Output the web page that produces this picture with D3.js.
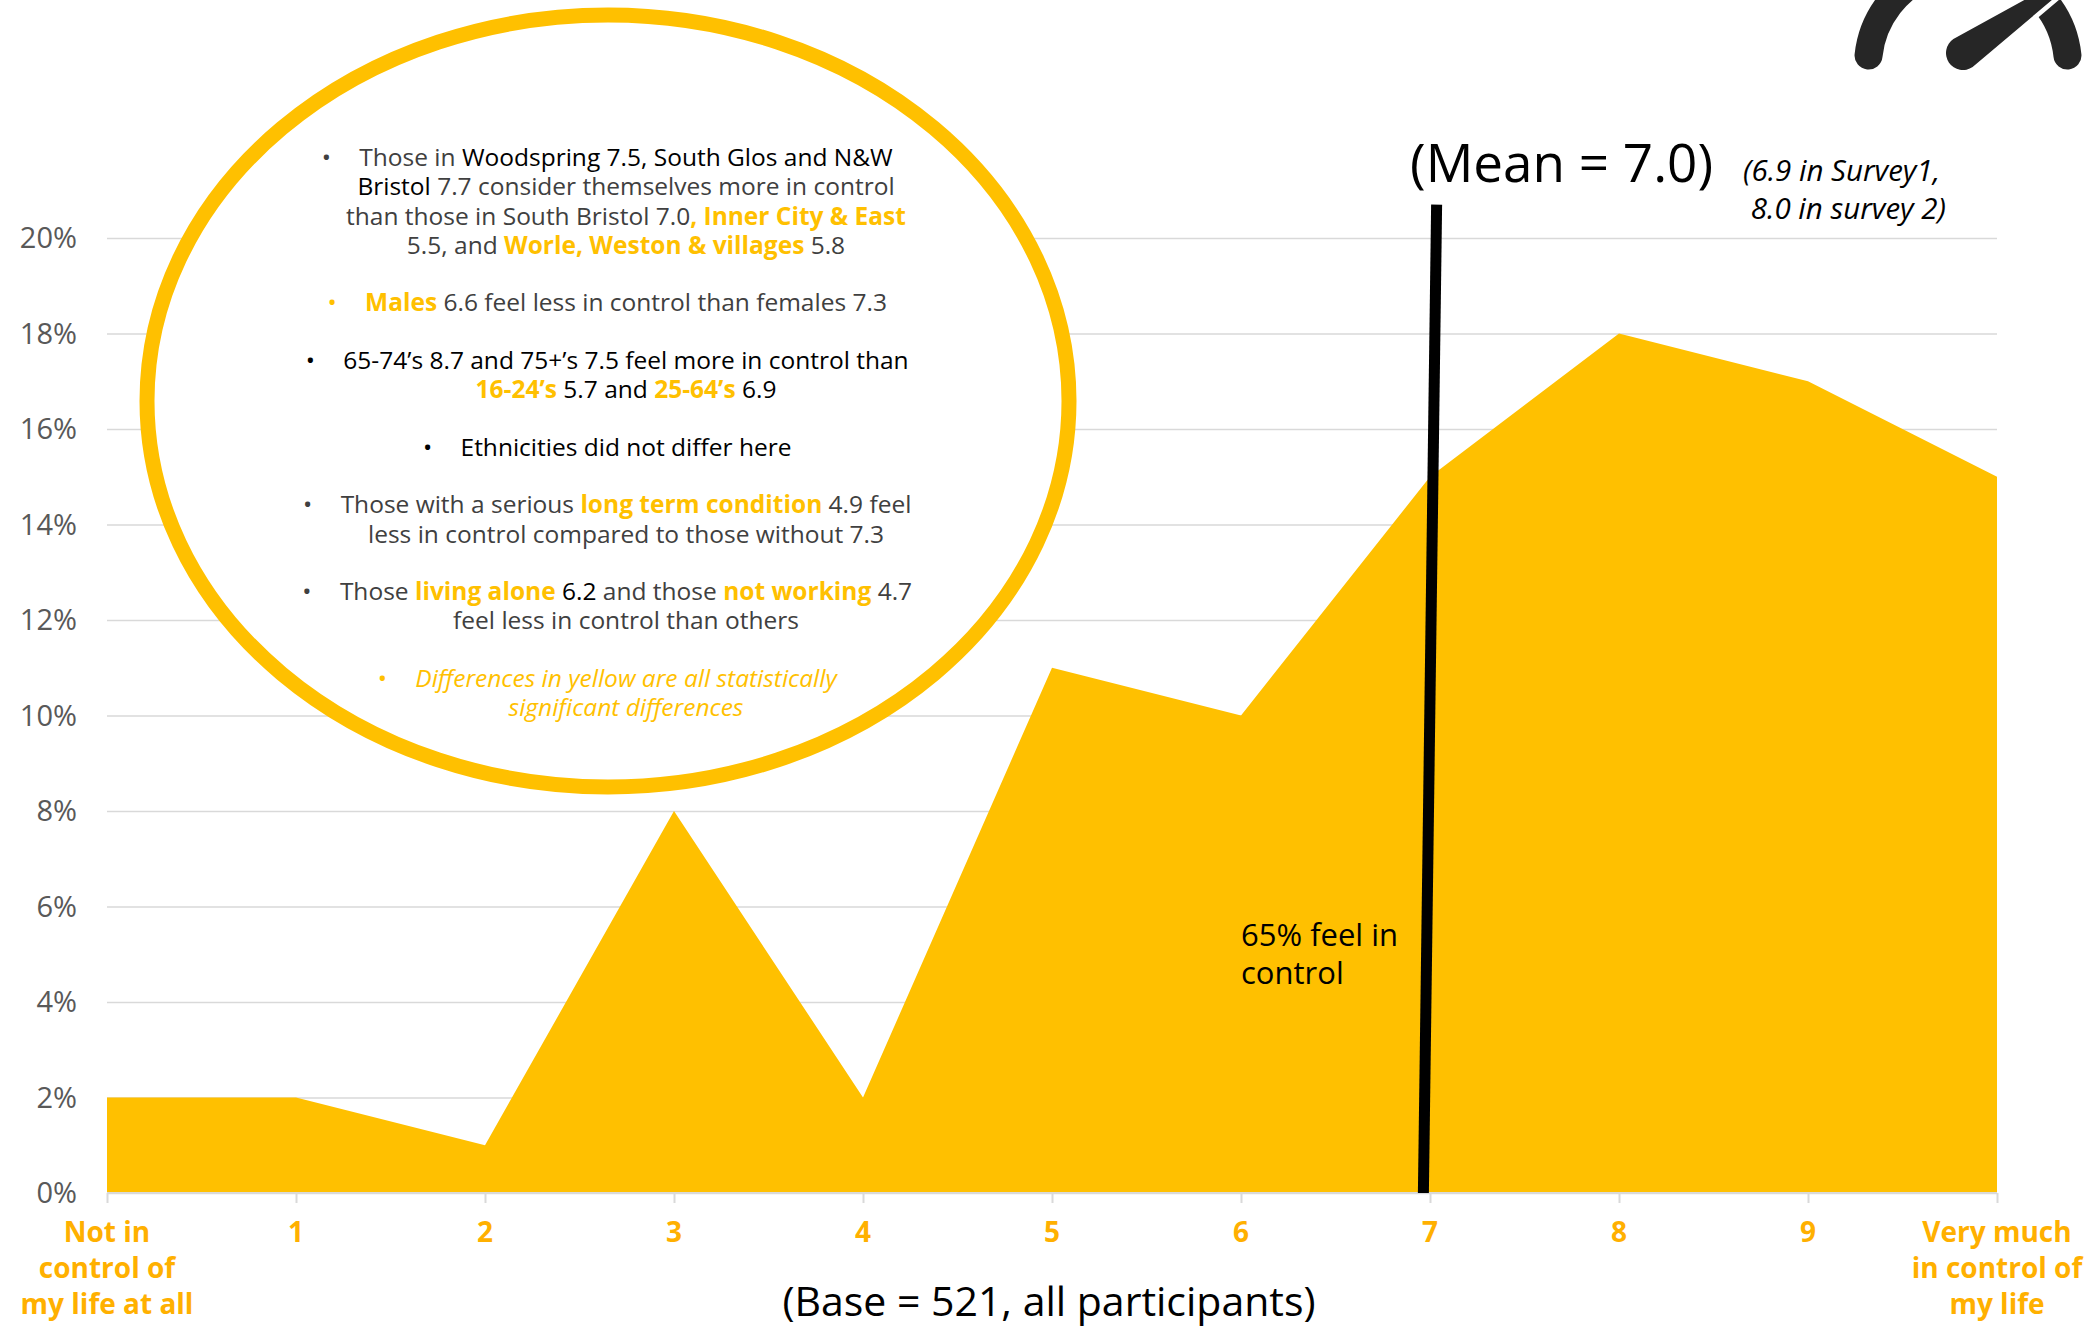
<!DOCTYPE html>
<html>
<head>
<meta charset="utf-8">
<script src="https://cdn.jsdelivr.net/npm/d3@7"></script>
<style>
  html, body { margin: 0; padding: 0; background: #ffffff; }
  svg { display: block; }
</style>
</head>
<body>
<svg id="chart" width="2096" height="1327"></svg>
<script>
// ---- data ----
const scorePoints = [0, 1, 2, 3, 4, 5, 6, 7, 8, 9, 10];
const scoreLabels = [
  ["Not in", "control of", "my life at all"],
  ["1"], ["2"], ["3"], ["4"], ["5"], ["6"], ["7"], ["8"], ["9"],
  ["Very much", "in control of", "my life"]
];
const sharePct = [2, 2, 1, 8, 2, 11, 10, 15, 18, 17, 15];
const yTickValues = [0, 2, 4, 6, 8, 10, 12, 14, 16, 18, 20];
const meanScore = 7.0;
const meanNote = ["(6.9 in Survey1,", "8.0 in survey 2)"];
const inControlNote = ["65% feel in", "control"];
const baseNote = "(Base = 521, all participants)";

// text runs: g = grey, k = black, y = yellow bold, yi = yellow italic
const findings = [
  { bullet: "g", lines: [
    [["Those in ", "g"], ["Woodspring 7.5, South Glos and N&W", "k"]],
    [["Bristol ", "k"], ["7.7 consider themselves more in control", "g"]],
    [["than those in South Bristol 7.0", "g"], [", Inner City & East", "y"]],
    [["5.5, and ", "g"], ["Worle, Weston & villages", "y"], [" 5.8", "g"]]
  ]},
  { bullet: "y", lines: [
    [["Males", "y"], [" 6.6 feel less in control than females 7.3", "g"]]
  ]},
  { bullet: "k", lines: [
    [["65-74\u2019s 8.7 and 75+\u2019s 7.5 feel more in control than", "k"]],
    [["16-24\u2019s", "y"], [" 5.7 and ", "k"], ["25-64\u2019s", "y"], [" 6.9", "k"]]
  ]},
  { bullet: "k", lines: [
    [["Ethnicities did not differ here", "k"]]
  ]},
  { bullet: "g", lines: [
    [["Those with a serious ", "g"], ["long term condition", "y"], [" 4.9 feel", "g"]],
    [["less in control compared to those without 7.3", "g"]]
  ]},
  { bullet: "g", lines: [
    [["Those ", "g"], ["living alone", "y"], [" 6.2", "k"], [" and those ", "g"], ["not working", "y"], [" 4.7", "g"]],
    [["feel less in control than others", "g"]]
  ]},
  { bullet: "y", lines: [
    [["Differences in yellow are all statistically", "yi"]],
    [["significant differences", "yi"]]
  ]}
];

// ---- styling ----
const YELLOW = "#FFC000";
const LABEL_ORANGE = "#FFB000";
const GRID = "#d9d9d9";
const runColor = { g: "#404040", k: "#000000", y: YELLOW, yi: YELLOW };
const FONT = "'Open Sans', 'DejaVu Sans', sans-serif";

const svg = d3.select("#chart");

const x = d3.scaleLinear().domain([0, 10]).range([107, 1997]);
const y = d3.scaleLinear().domain([0, 20]).range([1193, 238]);

// ---- gridlines & y axis labels ----
const yAxis = d3.axisLeft(y)
  .tickValues(yTickValues)
  .tickSize(-(x(10) - x(0)))
  .tickPadding(30)
  .tickFormat(d => d + "%");

const gy = svg.append("g")
  .attr("transform", `translate(${x(0)},0)`)
  .call(yAxis);
gy.select(".domain").remove();
gy.selectAll(".tick line").attr("stroke", GRID).attr("stroke-width", 1.6);
gy.selectAll(".tick text")
  .attr("fill", "#595959")
  .attr("font-family", FONT)
  .attr("font-size", 29)
  .attr("dy", "0.34em");

// ---- area ----
const series = scorePoints.map((s, i) => ({ s, v: sharePct[i] }));
svg.append("path")
  .datum(series)
  .attr("fill", YELLOW)
  .attr("d", d3.area().x(d => x(d.s)).y0(y(0)).y1(d => y(d.v)));

// ---- x axis ----
const xAxis = d3.axisBottom(x)
  .tickValues(scorePoints)
  .tickSize(10)
  .tickFormat("");
const gx = svg.append("g")
  .attr("transform", `translate(0,${y(0)})`)
  .call(xAxis);
gx.select(".domain").attr("stroke", GRID).attr("stroke-width", 2).attr("d", `M${x(0)},0H${x(10)}`);
gx.selectAll(".tick line").attr("stroke", GRID).attr("stroke-width", 2);

const xl = svg.append("g")
  .attr("font-family", FONT)
  .attr("font-weight", 700)
  .attr("font-size", 28)
  .attr("fill", LABEL_ORANGE)
  .attr("text-anchor", "middle");
scorePoints.forEach((s, i) => {
  const t = xl.append("text").attr("x", x(s)).attr("y", 1242);
  scoreLabels[i].forEach((ln, j) => {
    t.append("tspan").attr("x", x(s)).attr("dy", j === 0 ? 0 : 36).text(ln);
  });
});

// ---- callout ring with findings ----
svg.append("ellipse")
  .attr("cx", 608).attr("cy", 401)
  .attr("rx", 461).attr("ry", 386)
  .attr("fill", "#ffffff")
  .attr("stroke", YELLOW)
  .attr("stroke-width", 15);

const notes = svg.append("g")
  .attr("font-family", FONT)
  .attr("font-size", 24.5);

const centreX = 626;
let baseY = 166;
findings.forEach((para, pi) => {
  para.lines.forEach((line, li) => {
    const t = notes.append("text").attr("x", 0).attr("y", baseY);
    line.forEach(([txt, style]) => {
      t.append("tspan")
        .attr("fill", runColor[style])
        .attr("font-weight", style === "y" ? 700 : 400)
        .attr("font-style", style === "yi" ? "italic" : "normal")
        .text(txt);
    });
    const w = t.node().getComputedTextLength();
    const startX = centreX - w / 2;
    t.attr("x", startX);
    if (li === 0) {
      notes.append("text")
        .attr("x", startX - 33).attr("y", baseY)
        .attr("text-anchor", "middle")
        .attr("fill", runColor[para.bullet])
        .text("\u2022");
    }
    baseY += 29.3;
  });
  baseY += 28.2;
});

// ---- mean marker ----
const meanLine = [
  { s: meanScore - 0.035, v: 0 },
  { s: meanScore + 0.035, v: 20.7 }
];
svg.append("path")
  .datum(meanLine)
  .attr("fill", "none")
  .attr("stroke", "#000")
  .attr("stroke-width", 11)
  .attr("d", d3.line().x(d => x(d.s)).y(d => y(d.v)));

svg.append("text")
  .attr("x", 1410).attr("y", 182)
  .attr("font-family", FONT)
  .attr("font-size", 53)
  .attr("fill", "#000")
  .text(`(Mean = ${meanScore.toFixed(1)})`);

const mn = svg.append("g")
  .attr("font-family", FONT)
  .attr("font-size", 29.5)
  .attr("font-style", "italic")
  .attr("fill", "#000")
  .attr("text-anchor", "end");
meanNote.forEach((ln, i) => {
  mn.append("text").attr("x", 1940 + i * 6).attr("y", 181 + i * 38).text(ln);
});

const ic = svg.append("g")
  .attr("font-family", FONT)
  .attr("font-size", 31)
  .attr("fill", "#000");
inControlNote.forEach((ln, i) => {
  ic.append("text").attr("x", 1241).attr("y", 946 + i * 38).text(ln);
});

svg.append("text")
  .attr("x", 1049).attr("y", 1316)
  .attr("text-anchor", "middle")
  .attr("font-family", FONT)
  .attr("font-size", 41)
  .attr("fill", "#000")
  .text(baseNote);

// ---- gauge emblem (top right) ----
const emblem = svg.append("g").attr("fill", "#262626");
const ringC = [1968, 66], ringR = 100;
const pt = a => [ringC[0] + ringR * Math.cos(a * Math.PI / 180), ringC[1] + ringR * Math.sin(a * Math.PI / 180)];
const arcPath = (a0, a1) => {
  const p0 = pt(a0), p1 = pt(a1);
  return `M${p0[0]},${p0[1]}A${ringR},${ringR} 0 0 1 ${p1[0]},${p1[1]}`;
};
emblem.append("path").attr("d", arcPath(186, 250))
  .attr("fill", "none").attr("stroke", "#262626").attr("stroke-width", 28).attr("stroke-linecap", "round");
emblem.append("path").attr("d", arcPath(285, 354))
  .attr("fill", "none").attr("stroke", "#262626").attr("stroke-width", 28).attr("stroke-linecap", "round");
// needle
const nb = [1963, 53], nr = 17, ang = -34.5 * Math.PI / 180;
const dir = [Math.cos(ang), Math.sin(ang)], perp = [-dir[1], dir[0]];
const tip = [nb[0] + 170 * dir[0], nb[1] + 170 * dir[1]];
const pA = [nb[0] - nr * perp[0], nb[1] - nr * perp[1]];
const pB = [nb[0] + nr * perp[0], nb[1] + nr * perp[1]];
emblem.append("path")
  .attr("d", `M${pA[0]},${pA[1]}L${tip[0]},${tip[1]}L${pB[0]},${pB[1]}A${nr},${nr} 0 0 1 ${pA[0]},${pA[1]}Z`)
  .attr("stroke", "#ffffff").attr("stroke-width", 9).attr("paint-order", "stroke");
</script>
</body>
</html>
